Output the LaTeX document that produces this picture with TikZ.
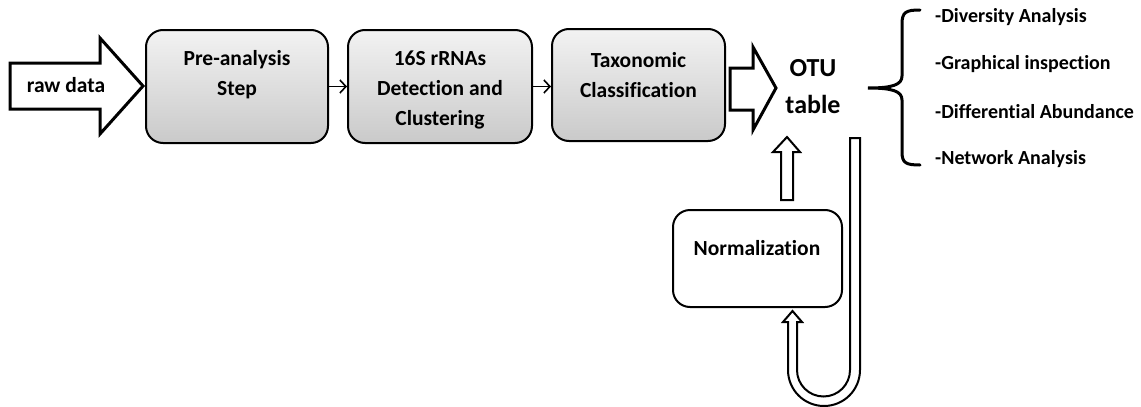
\documentclass[tikz,border=0pt]{standalone}
\usepackage{fontspec}
\setmainfont{Carlito}[Ligatures=NoCommon]
\usetikzlibrary{arrows.meta}
\begin{document}
\begin{tikzpicture}[x=1pt,y=-1pt,
  stepbox/.style={draw,line width=2pt,rounded corners=17pt,top color=gray!10,bottom color=gray!42,minimum width=#1,minimum height=113pt,inner sep=0pt},
  plainbox/.style={draw,line width=2pt,rounded corners=17pt,fill=white,inner sep=0pt},
  label/.style={font=\bfseries\fontsize{21.5}{30}\selectfont,align=center,inner sep=0pt},
  item/.style={font=\bfseries\fontsize{20}{24}\selectfont,anchor=west,inner sep=0pt},
  blockarrow/.style={draw,line width=3pt,fill=white,line join=miter},
  tubearrow/.style={draw,line width=2pt,fill=white,line join=miter},
  conn/.style={line width=1.6pt,-{Straight Barb[length=6pt,width=13pt,line width=1.6pt]}},
  brace/.style={line width=3pt,line cap=round}]
\useasboundingbox (0,0) rectangle (1141,407);

% input arrow
\draw[blockarrow] (10,63) -- (100,63) -- (100,38) -- (143,86) -- (100,134) -- (100,109) -- (10,109) -- cycle;
\node[label] (raw) at (66,85) {raw data};

% processing steps
\node[stepbox=182pt] (b1) at (237,86.5) {};
\node[stepbox=184pt] (b2) at (440,86.5) {};
\node[stepbox=173pt,minimum height=112pt] (b3) at (638.5,85) {};
\node[label] (t1) at (237,75) {Pre-analysis\\Step};
\node[label] (t2) at (440,90) {16S rRNAs\\Detection and\\Clustering};
\node[label] (t3) at (638.5,75) {Taxonomic\\Classification};
\draw[conn] (b1) -- (b2);
\draw[conn] (b2.east) -- (b3.west |- b2.east);

% arrow into the OTU table
\draw[blockarrow] (730,68) -- (753,68) -- (753,47) -- (776,88) -- (753,130) -- (753,110) -- (730,110) -- cycle;
\node[font=\bfseries\fontsize{26}{37}\selectfont,align=center,inner sep=0pt] (otu) at (813,87) {OTU\\table};

% brace and downstream analyses
\draw[brace] (920,10) .. controls (906,10) and (902,12) .. (902,24) -- (902,76)
  .. controls (902,85) and (892,88) .. (868,88)
  .. controls (892,88) and (902,91) .. (902,100) -- (902,152)
  .. controls (902,163) and (906,165) .. (920,165);
\node[item] (a1) at (935,17) {-Diversity Analysis};
\node[item] (a2) at (935,64) {-Graphical inspection};
\node[item] (a3) at (935,112) {-Differential Abundance};
\node[item] (a4) at (935,159) {-Network Analysis};

% normalization loop
\node[plainbox,minimum width=169pt,minimum height=97pt] (norm) at (757.5,258.5) {};
\node[label] (nt) at (757,248) {Normalization};
\draw[tubearrow] (781,200) -- (781,152) -- (773,152) -- (787,137) -- (800,152) -- (793,152) -- (793,200) -- cycle;
\draw[tubearrow] (850,138) -- (860,138) -- (860,370)
  arc[start angle=0,end angle=180,radius=36]
  -- (788,322) -- (783,322) -- (792.5,311) -- (802,322) -- (797,322) -- (797,370)
  arc[start angle=180,end angle=0,radius=26.5]
  -- cycle;
\end{tikzpicture}
\end{document}
